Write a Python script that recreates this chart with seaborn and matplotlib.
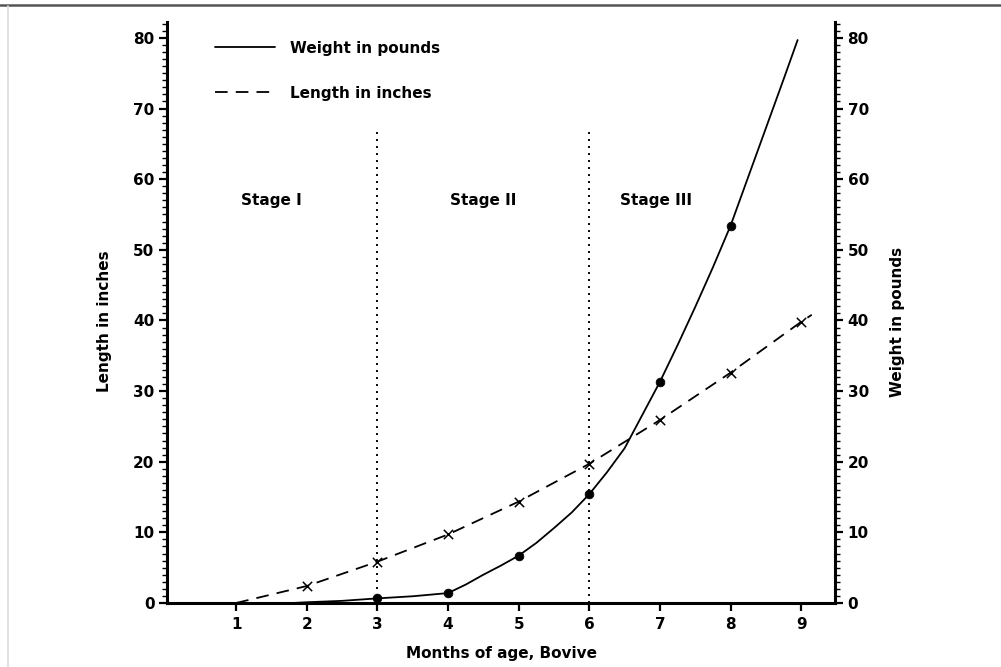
import matplotlib
matplotlib.use("Agg")
import matplotlib.pyplot as plt
from matplotlib.lines import Line2D
from matplotlib.ticker import MultipleLocator
import seaborn as sns
import pandas as pd

# ---- data ----
weight_months = [1.8, 2, 2.5, 3, 3.5, 4, 4.25, 4.5, 4.75, 5, 5.25, 5.5, 5.75, 6,
                 6.25, 6.5, 6.75, 7, 7.25, 7.5, 7.75, 8, 8.25, 8.5, 8.75, 8.95]
weight_lbs = [0.0, 0.1, 0.3, 0.65, 0.95, 1.4, 2.6, 4.0, 5.3, 6.7, 8.5, 10.6, 12.8, 15.4,
              18.5, 21.9, 26.6, 31.3, 36.5, 41.9, 47.5, 53.4, 60.3, 67.2, 74.1, 79.7]
weight_marker_months = [3, 4, 5, 6, 7, 8]

length_months = [1, 2, 3, 4, 5, 6, 7, 8, 9, 9.15]
length_in = [0.0, 2.4, 5.85, 9.7, 14.35, 19.7, 25.9, 32.6, 39.8, 40.8]
length_marker_months = [2, 3, 4, 5, 6, 7, 8, 9]

stage_labels = ["Stage I", "Stage II", "Stage III"]
stage_x = [1.5, 4.5, 6.95]
stage_y = 57.0
stage_bounds = [3, 6]
stage_top = 67

x_ticks = [1, 2, 3, 4, 5, 6, 7, 8, 9]

wdf = pd.DataFrame({"month": weight_months, "value": weight_lbs})
ldf = pd.DataFrame({"month": length_months, "value": length_in})
wmk = wdf[wdf["month"].isin(weight_marker_months)]
lmk = ldf[ldf["month"].isin(length_marker_months)]

# ---- style ----
sns.set_theme(style="white")
plt.rcParams["font.family"] = ["DejaVu Sans"]
plt.rcParams["font.weight"] = "bold"
plt.rcParams["axes.labelweight"] = "bold"
plt.rcParams["text.color"] = "black"
plt.rcParams["axes.labelcolor"] = "black"
plt.rcParams["xtick.color"] = "black"
plt.rcParams["ytick.color"] = "black"
FS = 11

fig = plt.figure(figsize=(10.01, 6.67), dpi=100)
ax = fig.add_axes([0.1668, 0.0960, 0.8342 - 0.1668, 0.9675 - 0.0960])
ax2 = ax.twinx()

lw = 1.3
sns.lineplot(data=ldf, x="month", y="value", ax=ax, color="black", lw=lw,
             dashes=False, linestyle=(0, (7, 4.5)), sort=False, legend=False)
sns.scatterplot(data=lmk, x="month", y="value", ax=ax, marker="x", color="black",
                s=45, linewidth=1.1, zorder=5, legend=False)
sns.lineplot(data=wdf, x="month", y="value", ax=ax2, color="black", lw=lw,
             sort=False, legend=False)
sns.scatterplot(data=wmk, x="month", y="value", ax=ax2, marker="o", color="black",
                s=40, edgecolor="black", zorder=5, legend=False)

for xb in stage_bounds:
    ax.vlines(xb, 0, stage_top, colors="black", linestyles=(0, (1, 2.6)), lw=1.4)
for lab, sx in zip(stage_labels, stage_x):
    ax.text(sx, stage_y, lab, ha="center", va="center", fontsize=FS,
            fontweight="bold", color="black")

for a in (ax, ax2):
    a.set_xlim(0.02, 9.48)
    a.set_ylim(0, 82.3)
    a.yaxis.set_major_locator(MultipleLocator(10))
    a.yaxis.set_minor_locator(MultipleLocator(1))
    for s in a.spines.values():
        s.set_visible(False)
    a.tick_params(axis="y", which="major", length=6, width=1.6, direction="out",
                  labelsize=FS, pad=3, color="black", labelcolor="black")
    a.tick_params(axis="y", which="minor", length=3.5, width=1.0, direction="out",
                  color="black")

ax.set_xticks(x_ticks)
ax.tick_params(axis="x", which="major", length=6, width=1.6, direction="out",
               labelsize=FS, pad=4, color="black", labelcolor="black", bottom=True)
ax.tick_params(axis="y", left=True, which="both")
ax2.tick_params(axis="y", right=True, left=False, which="both")
ax.spines["left"].set_visible(True)
ax.spines["bottom"].set_visible(True)
ax2.spines["right"].set_visible(True)
for s in (ax.spines["left"], ax.spines["bottom"], ax2.spines["right"]):
    s.set_linewidth(2.2)
    s.set_color("black")

for lab in ax.get_xticklabels() + ax.get_yticklabels() + ax2.get_yticklabels():
    lab.set_fontweight("bold")

ax.set_xlabel("Months of age, Bovive", fontsize=FS, fontweight="bold", labelpad=10,
              color="black")
ax.set_ylabel("Length in inches", fontsize=FS, fontweight="bold", labelpad=15.5,
              color="black")
ax2.set_ylabel("Weight in pounds", fontsize=FS, fontweight="bold", labelpad=15.3,
               rotation=90, color="black")
ax.yaxis.label.set_y(0.484)
ax2.yaxis.label.set_y(0.484)

handles = [Line2D([], [], color="black", lw=lw),
           Line2D([], [], color="black", lw=lw, linestyle=(0, (7, 4.5)))]
leg = fig.legend(handles, ["Weight in pounds", "Length in inches"], loc="upper left",
                 bbox_to_anchor=(0.209, 0.948), bbox_transform=fig.transFigure,
                 frameon=False, handlelength=3.9, handletextpad=1.0,
                 labelspacing=1.95, borderaxespad=0, prop={"weight": "bold", "size": FS})
for t in leg.get_texts():
    t.set_color("black")

# page border lines
fig.add_artist(Line2D([0, 1], [1 - 5 / 667, 1 - 5 / 667], transform=fig.transFigure,
                      color="#555555", lw=1.8))
fig.add_artist(Line2D([8 / 1001, 8 / 1001], [0, 1 - 6 / 667], transform=fig.transFigure,
                      color="#dddddd", lw=1.2))

fig.savefig("out.png", dpi=100)
